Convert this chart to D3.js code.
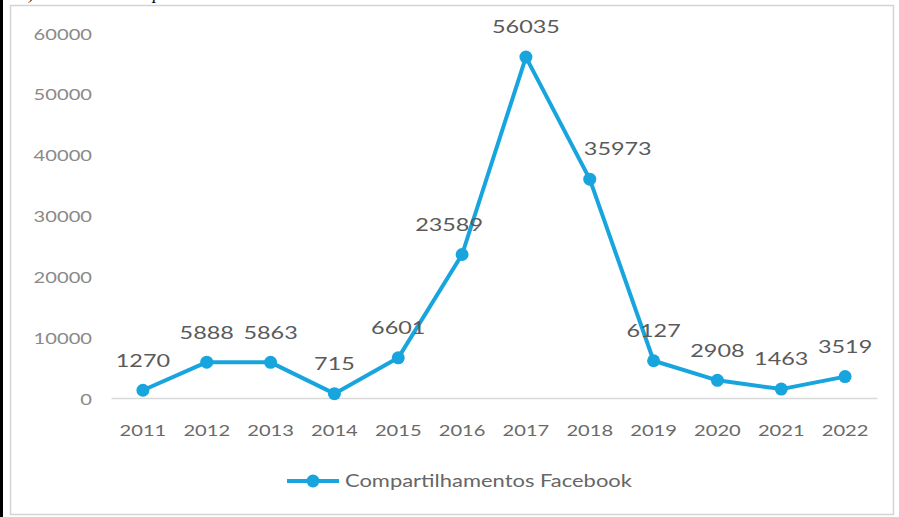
<!DOCTYPE html>
<html>
<head>
<meta charset="utf-8">
<script src="https://cdn.jsdelivr.net/npm/d3@7"></script>
<style>
  body { margin: 0; background: #fff; }
  svg { display: block; }
</style>
</head>
<body>
<svg id="chart" width="899" height="517"></svg>
<script>
// Yearly Facebook shares
const years = ["2011", "2012", "2013", "2014", "2015", "2016", "2017", "2018", "2019", "2020", "2021", "2022"];
const shares = [1270, 5888, 5863, 715, 6601, 23589, 56035, 35973, 6127, 2908, 1463, 3519];
const yTicks = [0, 10000, 20000, 30000, 40000, 50000, 60000];
const seriesName = "Compartilhamentos Facebook";
const caption = "a) Número de compartilhamentos";

const W = 899, H = 517;
const blue = "#18a5de";
const font = "Lato, 'Open Sans', sans-serif";
const stretch = 1.3; // horizontal widening of the text glyphs

const svg = d3.select("#chart");

// caption line above the frame (only its descenders fall inside the page)
svg.append("text")
  .attr("x", 20).attr("y", -1)
  .attr("font-family", "'Liberation Serif', 'DejaVu Serif', serif")
  .attr("font-style", "italic")
  .attr("font-size", 18)
  .attr("fill", "#000")
  .text(caption);

// left black rule
svg.append("rect").attr("x", 0).attr("y", 0).attr("width", 3).attr("height", H).attr("fill", "#000");

// chart frame
svg.append("rect")
  .attr("x", 10.5).attr("y", 5.5).attr("width", 883).attr("height", 509)
  .attr("fill", "#fff").attr("stroke", "#d4d4d4").attr("stroke-width", 1.5);

const x = d3.scaleBand().domain(years).range([111, 877]).paddingInner(0).paddingOuter(0);
const y = d3.scaleLinear().domain([0, 60000]).range([398, 33]);
const cx = d => x(d) + x.bandwidth() / 2;

function stretched(sel, px, py) {
  return sel.attr("transform", `translate(${px},${py}) scale(${stretch},1)`);
}

// y axis labels
const yAxis = svg.append("g")
  .attr("transform", "translate(92,0)")
  .call(d3.axisLeft(y).tickValues(yTicks).tickSize(0).tickPadding(0).tickFormat(d3.format("d")));
yAxis.select(".domain").remove();
yAxis.selectAll(".tick text")
  .attr("x", 0).attr("dy", null).attr("y", 0)
  .attr("font-family", font).attr("font-size", 15.5).attr("fill", "#8a8a8a")
  .attr("dominant-baseline", "central")
  .attr("transform", `scale(${stretch},1)`);

// x axis: baseline and year labels
const xAxis = svg.append("g")
  .attr("transform", `translate(0,${y(0)})`)
  .call(d3.axisBottom(x).tickSize(0).tickPadding(0));
xAxis.select(".domain").attr("stroke", "#d9d9d9").attr("stroke-width", 1.3);
xAxis.selectAll(".tick text")
  .attr("y", 0).attr("dy", null)
  .attr("font-family", font).attr("font-size", 15.5).attr("fill", "#6a6a6a")
  .attr("dominant-baseline", "central")
  .attr("transform", `translate(0,32) scale(${stretch},1)`);

// series line
const pts = years.map((yr, i) => ({ yr, v: shares[i] }));
svg.append("path")
  .datum(pts)
  .attr("fill", "none").attr("stroke", blue).attr("stroke-width", 4)
  .attr("stroke-linejoin", "round")
  .attr("d", d3.line().x(d => cx(d.yr)).y(d => y(d.v)));

svg.selectAll("circle.pt")
  .data(pts).join("circle")
  .attr("class", "pt")
  .attr("cx", d => cx(d.yr)).attr("cy", d => y(d.v))
  .attr("r", 6.5).attr("fill", blue);

// value labels above each point
const labelShift = { "2016": -13, "2018": 28 };
svg.selectAll("text.val")
  .data(pts).join("text")
  .attr("class", "val")
  .attr("text-anchor", "middle")
  .attr("dominant-baseline", "central")
  .attr("font-family", font).attr("font-size", 18).attr("fill", "#5a5a5a")
  .each(function (d) {
    stretched(d3.select(this), cx(d.yr) + (labelShift[d.yr] || 0), y(d.v) - 31);
  })
  .text(d => d.v);

// legend
const lg = svg.append("g");
lg.append("line").attr("x1", 287).attr("x2", 339).attr("y1", 481).attr("y2", 481)
  .attr("stroke", blue).attr("stroke-width", 4);
lg.append("circle").attr("cx", 313).attr("cy", 481).attr("r", 6.5).attr("fill", blue);
const lt = lg.append("text")
  .attr("font-family", font).attr("font-size", 16.5).attr("fill", "#666666")
  .attr("dominant-baseline", "central")
  .text(seriesName);
const natural = lt.node().getComputedTextLength();
lt.attr("transform", `translate(345,481) scale(${287 / natural},1)`);
</script>
</body>
</html>
